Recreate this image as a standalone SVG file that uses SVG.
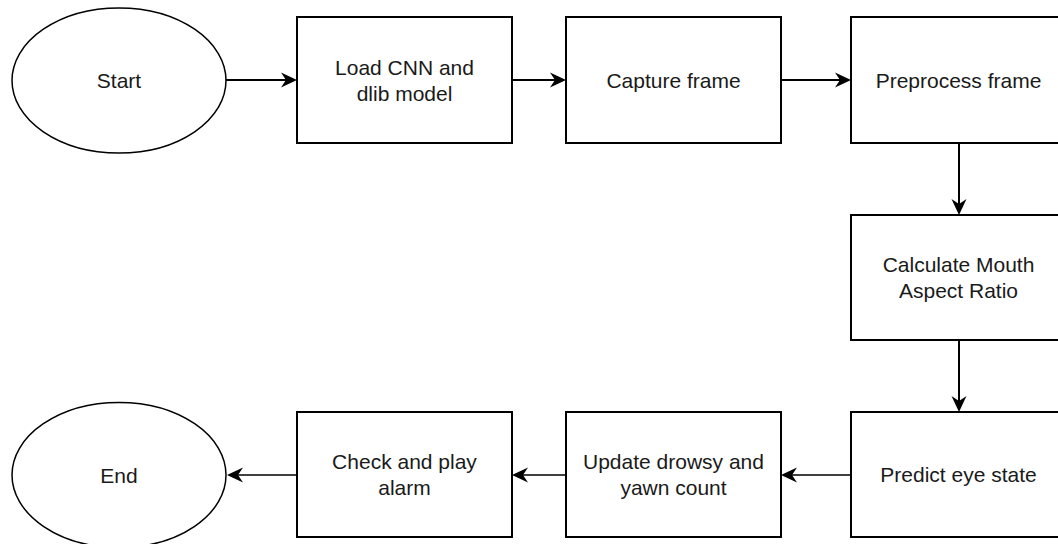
<svg xmlns="http://www.w3.org/2000/svg" width="1058" height="544" viewBox="0 0 1058 544">
  <style>
    .shape { fill: #ffffff; stroke: #000000; stroke-width: 2; }
    .oval { fill: #ffffff; stroke: #000000; stroke-width: 1.5; }
    .lbl { font-family: "Liberation Sans", Arial, sans-serif; font-size: 21px; fill: #1a1a1a; text-anchor: middle; }
    .conn { stroke: #000000; fill: none; }
    .thick { stroke-width: 2; }
    .thin { stroke-width: 1.3; }
  </style>
  <defs>
    <marker id="arrow" viewBox="0 0 16 16" markerWidth="16" markerHeight="16" markerUnits="userSpaceOnUse" refX="5" refY="8" orient="auto">
      <path d="M0,0.5 L16,8 L0,15.5 L5,8 Z" fill="#000000"/>
    </marker>
  </defs>
  <rect width="1058" height="544" fill="#ffffff"/>

  <g id="connectors">
    <line class="conn thick" x1="226" y1="80" x2="286" y2="80" marker-end="url(#arrow)"/>
    <line class="conn thick" x1="512" y1="80" x2="555" y2="80" marker-end="url(#arrow)"/>
    <line class="conn thick" x1="781" y1="80" x2="840" y2="80" marker-end="url(#arrow)"/>
    <line class="conn thick" x1="959" y1="143" x2="959" y2="204" marker-end="url(#arrow)"/>
    <line class="conn thick" x1="959" y1="340" x2="959" y2="401" marker-end="url(#arrow)"/>
    <line class="conn thin" x1="851" y1="475" x2="792" y2="475" marker-end="url(#arrow)"/>
    <line class="conn thin" x1="566" y1="475" x2="523" y2="475" marker-end="url(#arrow)"/>
    <line class="conn thin" x1="297" y1="475" x2="238" y2="475" marker-end="url(#arrow)"/>
  </g>

  <g id="start">
    <ellipse class="oval" cx="119" cy="80.5" rx="107" ry="72.5"/>
    <text class="lbl" x="119" y="88">Start</text>
  </g>
  <g id="load-model">
    <rect class="shape" x="297" y="17" width="215" height="126"/>
    <text class="lbl" x="404.5" y="74.5">Load CNN and</text>
    <text class="lbl" x="404.5" y="100.5">dlib model</text>
  </g>
  <g id="capture-frame">
    <rect class="shape" x="566" y="17" width="215" height="126"/>
    <text class="lbl" x="673.5" y="88">Capture frame</text>
  </g>
  <g id="preprocess-frame">
    <rect class="shape" x="851" y="17" width="215" height="126"/>
    <text class="lbl" x="958.5" y="88">Preprocess frame</text>
  </g>
  <g id="calculate-mar">
    <rect class="shape" x="851" y="215" width="215" height="125"/>
    <text class="lbl" x="958.5" y="272">Calculate Mouth</text>
    <text class="lbl" x="958.5" y="298">Aspect Ratio</text>
  </g>
  <g id="predict-eye">
    <rect class="shape" x="851" y="412" width="215" height="125"/>
    <text class="lbl" x="958.5" y="482">Predict eye state</text>
  </g>
  <g id="update-count">
    <rect class="shape" x="566" y="412" width="215" height="125"/>
    <text class="lbl" x="673.5" y="469">Update drowsy and</text>
    <text class="lbl" x="673.5" y="495">yawn count</text>
  </g>
  <g id="check-alarm">
    <rect class="shape" x="297" y="412" width="215" height="125"/>
    <text class="lbl" x="404.5" y="469">Check and play</text>
    <text class="lbl" x="404.5" y="495">alarm</text>
  </g>
  <g id="end">
    <ellipse class="oval" cx="119" cy="475" rx="107" ry="72.5"/>
    <text class="lbl" x="119" y="482.5">End</text>
  </g>
</svg>
